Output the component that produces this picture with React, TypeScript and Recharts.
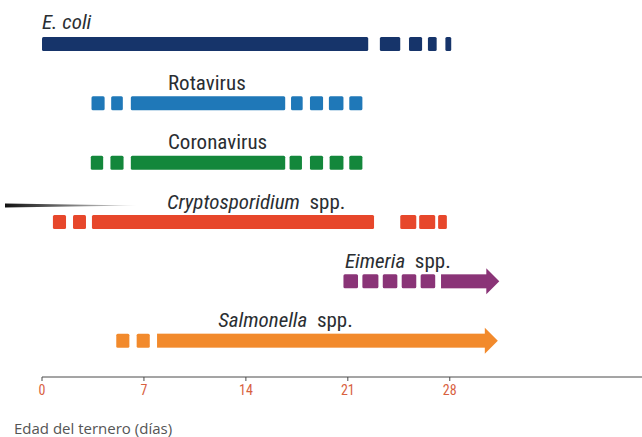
import { ComposedChart, Bar, XAxis, YAxis, ReferenceDot } from 'recharts'

// rows, top to bottom
const rowNames = ['E. coli', 'Rotavirus', 'Coronavirus', 'Cryptosporidium', 'Eimeria', 'Salmonella']
const rowColors = ['#16346a', '#1f78b8', '#13873b', '#e7472b', '#8a3477', '#f28a2c']
const arrowRows = [false, false, false, false, true, true]

// segments [from day, to day]
const ecoliSegments = [[0, 22.4], [23.2, 24.6], [25.2, 26.1], [26.5, 27.1], [27.7, 28.1]]
const rotavirusSegments = [[3.4, 4.3], [4.75, 5.55], [6.1, 16.7], [17.1, 17.9], [18.4, 19.3], [19.7, 20.7], [21.1, 22.0]]
const coronavirusSegments = [[3.35, 4.2], [4.7, 5.6], [6.1, 16.7], [17.0, 17.85], [18.4, 19.3], [19.75, 20.7], [21.1, 22.0]]
const cryptoSegments = [[0.75, 1.65], [2.13, 3.02], [3.43, 22.8], [24.6, 25.7], [25.9, 27.0], [27.2, 27.8]]
const eimeriaSegments = [[20.7, 21.7], [22.0, 23.1], [23.4, 24.4], [24.7, 25.7], [26.0, 27.0], [27.4, 31.4]]
const salmonellaSegments = [[5.1, 6.0], [6.5, 7.4], [7.9, 31.3]]
const segmentsByRow = [ecoliSegments, rotavirusSegments, coronavirusSegments, cryptoSegments, eimeriaSegments, salmonellaSegments]

// labels: italic part, plain part, starting day
const labelItalic = ['E. coli', '', '', 'Cryptosporidium', 'Eimeria', 'Salmonella']
const labelPlain = ['', 'Rotavirus', 'Coronavirus', '  spp.', '  spp.', '  spp.']
const labelStartDay = [0, 8.65, 8.65, 8.58, 20.8, 12.1]

const xTicks = [0, 7, 14, 21, 28]
const xMax = 41.2
const axisTitle = 'Edad del ternero (días)'

const MAX_SEG = 7
const LABEL_FONT = "'Liberation Sans Narrow', 'Roboto Condensed', Roboto, sans-serif"

const data = rowNames.map((name, r) => {
  const segs = segmentsByRow[r]
  const row: Record<string, any> = { name, color: rowColors[r], arrow: arrowRows[r], segCount: segs.length }
  let prev = 0
  for (let i = 0; i < MAX_SEG; i++) {
    const seg = segs[i]
    if (seg) {
      row[`g${i}`] = seg[0] - prev
      row[`s${i}`] = seg[1] - seg[0]
      prev = seg[1]
    } else {
      row[`g${i}`] = 0
      row[`s${i}`] = 0
    }
  }
  return row
})

const makeSegmentShape = (i: number) => (props: any) => {
  const { x, y, width, height, payload } = props
  if (!width || width <= 0) return <g />
  const fill = payload.color
  if (payload.arrow && i === payload.segCount - 1) {
    const head = 13
    const cy = y + height / 2
    const bodyEnd = x + width - head
    return (
      <g>
        <rect x={x} y={y} width={bodyEnd - x + 1} height={height} fill={fill} />
        <polygon points={`${bodyEnd},${cy - 13} ${x + width},${cy} ${bodyEnd},${cy + 13}`} fill={fill} />
      </g>
    )
  }
  return <rect x={x} y={y} width={width} height={height} rx={1.5} fill={fill} />
}

const makeLabelShape = (r: number) => (props: any) => {
  const { cx, cy } = props
  const dy = r === 0 ? -15 : -13
  return (
    <text x={cx} y={cy + dy} fontFamily={LABEL_FONT} fontSize={21} fill="#2a2e32" style={{ whiteSpace: 'pre' }}>
      {labelItalic[r] && <tspan fontStyle="italic">{labelItalic[r]}</tspan>}
      {labelPlain[r] && <tspan>{labelPlain[r]}</tspan>}
    </text>
  )
}

export default function App() {
  const bars = []
  for (let i = 0; i < MAX_SEG; i++) {
    bars.push(
      <Bar key={`g${i}`} dataKey={`g${i}`} stackId="a" fill="#ffffff" fillOpacity={0} barSize={14} isAnimationActive={false} />
    )
    bars.push(
      <Bar key={`s${i}`} dataKey={`s${i}`} stackId="a" barSize={14} shape={makeSegmentShape(i)} isAnimationActive={false} />
    )
  }

  return (
    <div style={{ position: 'absolute', left: 0, top: 0, width: 642, height: 437, background: '#fff' }}>
      <svg width={642} height={437} style={{ position: 'absolute', left: 0, top: 0 }}>
        <defs>
          <linearGradient id="fadeLine" x1="0" x2="1" y1="0" y2="0">
            <stop offset="0%" stopColor="#111" stopOpacity={1} />
            <stop offset="100%" stopColor="#111" stopOpacity={0.1} />
          </linearGradient>
        </defs>
        <polygon points="5,203.5 137,205.5 5,207.5" fill="url(#fadeLine)" />
      </svg>
      <div style={{ position: 'absolute', left: 0, top: 0 }}>
        <ComposedChart
          layout="vertical"
          width={642}
          height={437}
          data={data}
          margin={{ top: 14, right: 0, left: 42, bottom: 30 }}
        >
          <XAxis
            type="number"
            domain={[0, xMax]}
            ticks={xTicks}
            allowDataOverflow
            height={30}
            tickSize={4}
            tickMargin={4}
            axisLine={{ stroke: '#4a4a4a' }}
            tickLine={{ stroke: '#4a4a4a' }}
            tick={{ fill: '#d8613f', fontSize: 14, fontFamily: LABEL_FONT }}
          />
          <YAxis type="category" dataKey="name" hide padding={{ top: 0, bottom: 7 }} />
          {bars}
          {rowNames.map((name, r) => (
            <ReferenceDot
              key={name}
              x={labelStartDay[r]}
              y={name}
              r={0}
              ifOverflow="visible"
              shape={makeLabelShape(r)}
            />
          ))}
        </ComposedChart>
      </div>
      <div
        style={{
          position: 'absolute',
          left: 14,
          top: 418,
          fontFamily: "'Open Sans', sans-serif",
          fontSize: 15,
          color: '#555',
          whiteSpace: 'nowrap',
        }}
      >
        {axisTitle}
      </div>
    </div>
  )
}
